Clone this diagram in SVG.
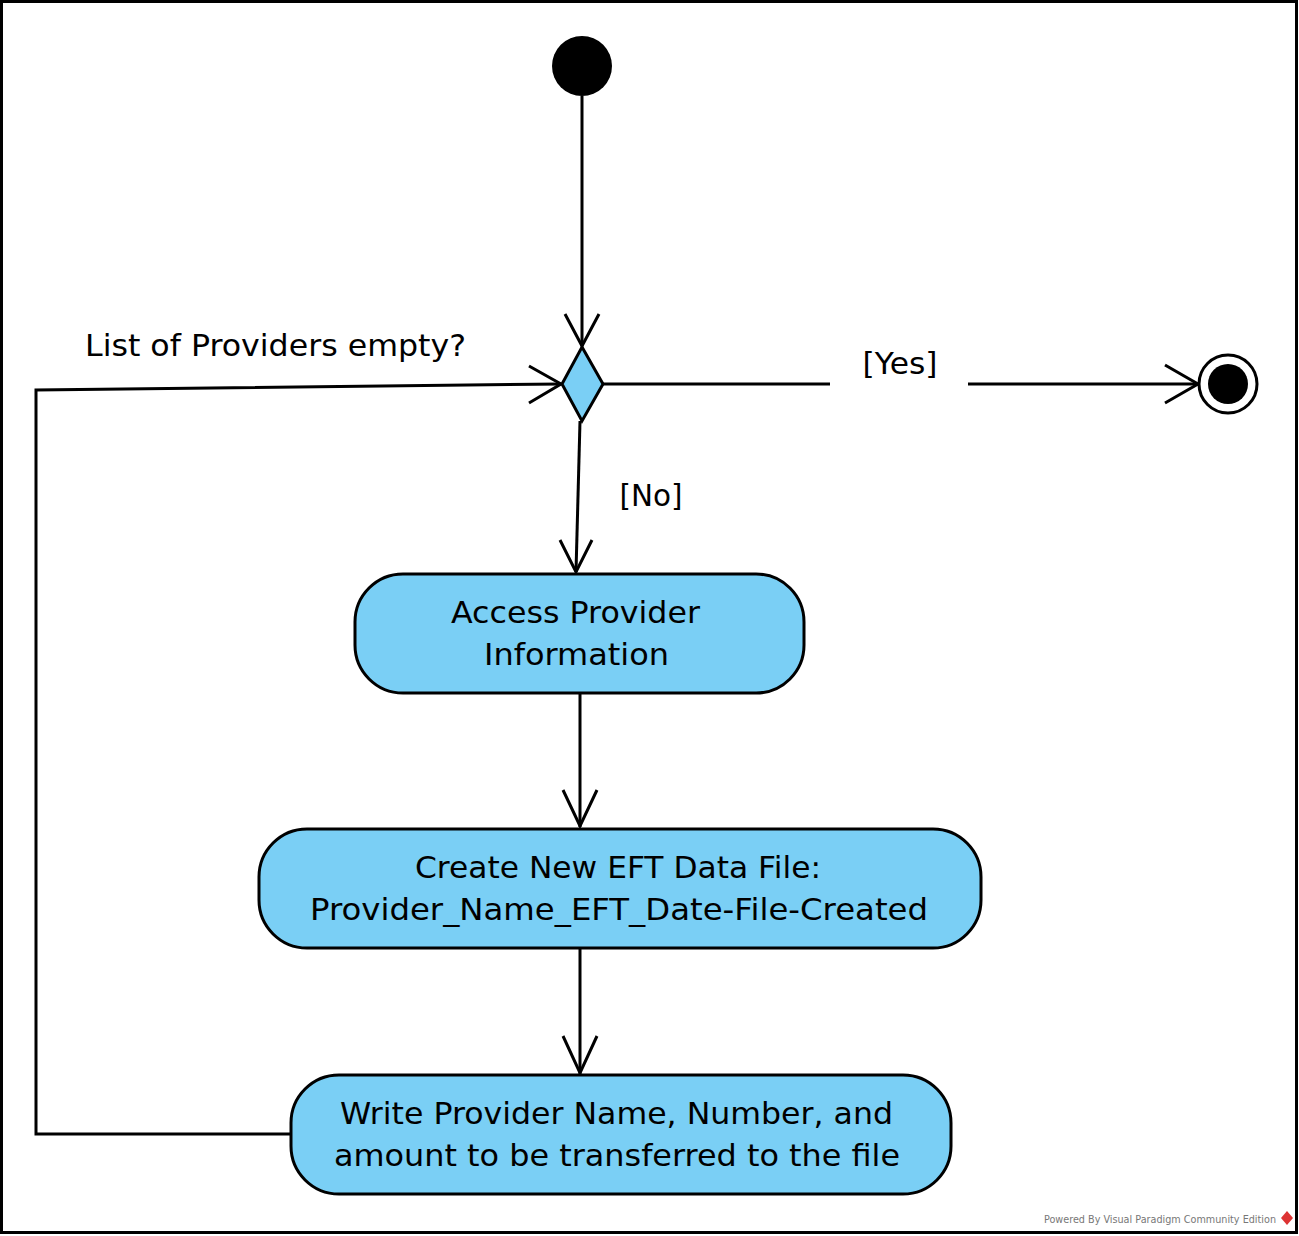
<svg xmlns="http://www.w3.org/2000/svg" width="1299" height="1236" viewBox="0 0 1299 1236">
<style>
.node{fill:#7acff5;stroke:#000;stroke-width:3}
.txt{font-family:"DejaVu Sans","Liberation Sans",sans-serif;font-size:30px;fill:#000;text-anchor:middle}
.edge{fill:none;stroke:#000;stroke-width:3}
.wm{font-family:"DejaVu Sans","Liberation Sans",sans-serif;font-size:10px;fill:#777}
</style>
<rect x="0" y="0" width="1299" height="1236" fill="#fff"/>
<rect x="1.5" y="1.5" width="1295" height="1231" fill="none" stroke="#000" stroke-width="3"/>
<g id="connectors">
  <path class="edge" d="M582,96 L582,346"/>
  <path class="edge" d="M565,314 L582,346 L599,314"/>
  <path class="edge" d="M603,384 L830,384 M968,384 L1198,384"/>
  <path class="edge" d="M1165,365 L1198,384 L1165,403"/>
  <path class="edge" d="M580,421 L576,572"/>
  <path class="edge" d="M560,540 L576,572 L592,540"/>
  <path class="edge" d="M580,693 L580,827"/>
  <path class="edge" d="M563,790 L580,826 L597,790"/>
  <path class="edge" d="M580,948 L580,1074"/>
  <path class="edge" d="M563,1036 L580,1073 L597,1036"/>
  <path class="edge" d="M291,1134 L36,1134 L36,390 L561,384"/>
  <path class="edge" d="M529,366 L561,384 L529,403"/>
  <text class="txt" x="900" y="374" textLength="75" lengthAdjust="spacingAndGlyphs">[Yes]</text>
  <text class="txt" x="651" y="506" textLength="63" lengthAdjust="spacingAndGlyphs">[No]</text>
  <text class="txt" x="275.5" y="356" textLength="381" lengthAdjust="spacingAndGlyphs">List of Providers empty?</text>
</g>
<g id="start"><circle cx="582" cy="66" r="30" fill="#000"/></g>
<g id="decision"><polygon class="node" points="582,347 603,384 582,421 562,384"/></g>
<g id="final">
  <circle cx="1228" cy="384" r="29" fill="#fff" stroke="#000" stroke-width="3"/>
  <circle cx="1228" cy="384" r="20" fill="#000"/>
</g>
<g id="access">
  <rect class="node" x="355" y="574" width="449" height="119" rx="48" ry="48"/>
  <text class="txt" x="575.5" y="623" textLength="249" lengthAdjust="spacingAndGlyphs">Access Provider</text>
  <text class="txt" x="576.5" y="665" textLength="185" lengthAdjust="spacingAndGlyphs">Information</text>
</g>
<g id="create">
  <rect class="node" x="259" y="829" width="722" height="119" rx="48" ry="48"/>
  <text class="txt" x="618" y="878" textLength="406" lengthAdjust="spacingAndGlyphs">Create New EFT Data File:</text>
  <text class="txt" x="619" y="920" textLength="618" lengthAdjust="spacingAndGlyphs">Provider_Name_EFT_Date-File-Created</text>
</g>
<g id="write">
  <rect class="node" x="291" y="1075" width="660" height="119" rx="48" ry="48"/>
  <text class="txt" x="616.5" y="1124" textLength="553" lengthAdjust="spacingAndGlyphs">Write Provider Name, Number, and</text>
  <text class="txt" x="617" y="1166" textLength="566" lengthAdjust="spacingAndGlyphs">amount to be transferred to the file</text>
</g>
<g id="watermark">
  <text class="wm" x="1044" y="1223" textLength="232" lengthAdjust="spacingAndGlyphs">Powered By Visual Paradigm Community Edition</text>
  <path d="M1287,1211 L1293,1218 L1287,1225 L1281,1218 Z" fill="#d33"/>
</g>
</svg>
